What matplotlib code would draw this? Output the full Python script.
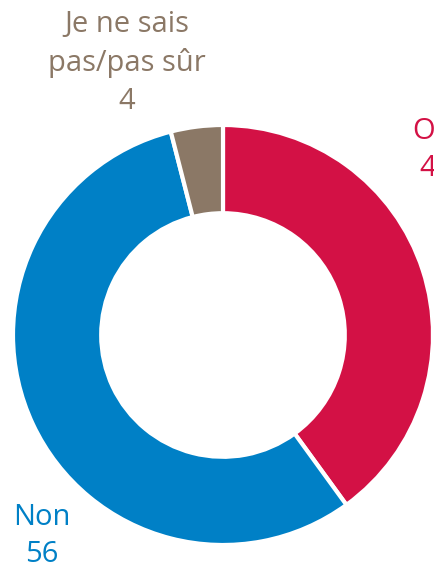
import matplotlib.pyplot as plt

labels = ['Oui', 'Non', 'Je ne sais\npas/pas sûr']
values = [40, 56, 4]
colors = ['#D31145', '#0080C6', '#8B7866']

# label text anchors (pixel coords, y from top)
label_pos = [(436, 150), (42, 536), (127, 63)]

H = 571


def main():
    fig = plt.figure(figsize=(4.34, 5.71), dpi=100)
    ax = fig.add_axes([0, 0, 1, 1])

    cx, cy, r = 223, 335, 210
    ax.pie(values, colors=colors, startangle=90, counterclock=False,
           center=(cx, H - cy), radius=r, frame=True,
           wedgeprops=dict(width=r * 0.42, edgecolor='white', linewidth=3))
    ax.set_xlim(0, 434)
    ax.set_ylim(0, H)
    ax.set_aspect('equal')
    ax.axis('off')

    for lab, v, c, (x, y) in zip(labels, values, colors, label_pos):
        ax.text(x, H - y, '{}\n{}'.format(lab, v), color=c, ha='center', va='center',
                fontsize=21, family='Open Sans', linespacing=1.38, clip_on=False)

    fig.savefig('out.png', dpi=100)


if __name__ == '__main__':
    main()
